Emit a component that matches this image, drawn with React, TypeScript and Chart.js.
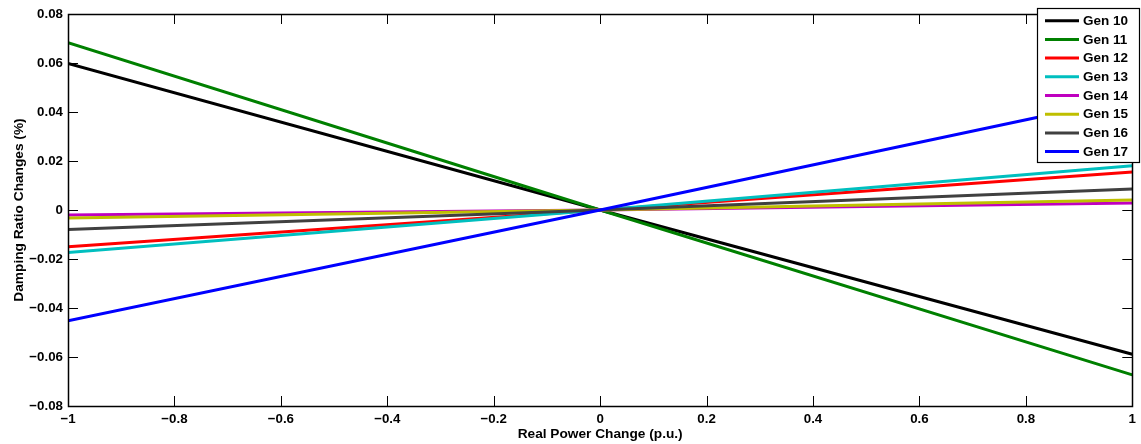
import React, { useEffect, useRef } from "react";
import { Chart, registerables } from "chart.js";

Chart.register(...registerables);

const xValues = [-1, 0, 1];
const seriesNames = ["Gen 10", "Gen 11", "Gen 12", "Gen 13", "Gen 14", "Gen 15", "Gen 16", "Gen 17"];
const gen10 = [0.0598, 0, -0.0589];
const gen11 = [0.0683, 0, -0.0673];
const gen12 = [-0.0150, 0, 0.0155];
const gen13 = [-0.0173, 0, 0.0181];
const gen14 = [-0.0020, 0, 0.0029];
const gen15 = [-0.0033, 0, 0.0041];
const gen16 = [-0.0080, 0, 0.0086];
const gen17 = [-0.0452, 0, 0.0460];
const seriesValues = [gen10, gen11, gen12, gen13, gen14, gen15, gen16, gen17];
const seriesColors = ["#000000", "#008000", "#ff0000", "#00bfbf", "#bf00bf", "#bfbf00", "#404040", "#0000ff"];
const xTicks = [-1, -0.8, -0.6, -0.4, -0.2, 0, 0.2, 0.4, 0.6, 0.8, 1];
const yTicks = [-0.08, -0.06, -0.04, -0.02, 0, 0.02, 0.04, 0.06, 0.08];

const FONT = "'Liberation Sans', Arial, Helvetica, sans-serif";

const fmt = (v: number, digits: number) => {
  if (Math.abs(v) < 1e-9) return "0";
  let s = Math.abs(Math.abs(v) - 1) < 1e-9 ? "1" : Math.abs(v).toFixed(digits);
  return (v < 0 ? "\u2212" : "") + s;
};

const boxPlugin = {
  id: "boxPlugin",
  afterDraw(chart: any) {
    const ctx = chart.ctx;
    const { left, right, top, bottom } = chart.chartArea;
    const xs = chart.scales.x;
    const ys = chart.scales.y;
    const tl = 10;
    ctx.save();
    ctx.strokeStyle = "#000";
    ctx.lineWidth = 1;
    ctx.beginPath();
    xTicks.forEach((t) => {
      const px = Math.round(xs.getPixelForValue(t)) + 0.5;
      ctx.moveTo(px, bottom);
      ctx.lineTo(px, bottom - tl);
      ctx.moveTo(px, top);
      ctx.lineTo(px, top + tl);
    });
    yTicks.forEach((t) => {
      const py = Math.round(ys.getPixelForValue(t)) + 0.5;
      ctx.moveTo(left, py);
      ctx.lineTo(left + tl, py);
      ctx.moveTo(right, py);
      ctx.lineTo(right - tl, py);
    });
    ctx.stroke();
    ctx.lineWidth = 1.5;
    ctx.strokeRect(Math.round(left) + 0.5, Math.round(top) + 0.5, Math.round(right - left), Math.round(bottom - top));

    // legend
    const lx = 1037.5, ly = 8.5, lw = 102, lh = 154;
    ctx.fillStyle = "#fff";
    ctx.fillRect(lx, ly, lw, lh);
    ctx.lineWidth = 1.2;
    ctx.strokeStyle = "#000";
    ctx.strokeRect(lx, ly, lw, lh);
    ctx.font = "bold 13.5px " + FONT;
    ctx.textBaseline = "middle";
    ctx.textAlign = "left";
    seriesNames.forEach((name, i) => {
      const cy = 20.7 + i * 18.7;
      ctx.strokeStyle = seriesColors[i];
      ctx.lineWidth = 3;
      ctx.beginPath();
      ctx.moveTo(1045, cy);
      ctx.lineTo(1079, cy);
      ctx.stroke();
      ctx.fillStyle = "#000";
      ctx.fillText(name, 1083, cy + 0.5);
    });
    ctx.restore();
  },
};

export default function App() {
  const ref = useRef<HTMLCanvasElement | null>(null);
  useEffect(() => {
    document.body.style.margin = "0";
    const canvas = ref.current!;
    const chart = new Chart(canvas, {
      type: "line",
      data: {
        datasets: seriesNames.map((name, i) => ({
          label: name,
          data: xValues.map((x, j) => ({ x, y: seriesValues[i][j] })),
          borderColor: seriesColors[i],
          backgroundColor: seriesColors[i],
          borderWidth: 3,
          pointRadius: 0,
          fill: false,
          tension: 0,
          order: seriesNames.length - i,
        })),
      },
      options: {
        responsive: false,
        animation: false,
        events: [],
        layout: { padding: { top: 14, right: 6, left: 0, bottom: 0 } },
        plugins: { legend: { display: false }, tooltip: { enabled: false } },
        scales: {
          x: {
            type: "linear",
            min: -1,
            max: 1,
            afterFit: (s: any) => { s.height = 38; },
            afterBuildTicks: (s: any) => { s.ticks = xTicks.map((v) => ({ value: v })); },
            grid: { display: false, drawTicks: false },
            border: { display: false },
            ticks: {
              padding: 5,
              color: "#000",
              font: { family: FONT, size: 13.3, weight: "bold" },
              callback: (v: any) => fmt(Number(v), 1),
              maxRotation: 0,
              autoSkip: false,
            },
            title: {
              display: true,
              text: "Real Power Change (p.u.)",
              color: "#000",
              font: { family: FONT, size: 13.7, weight: "bold" },
              padding: { top: 0, bottom: 2 },
            },
          },
          y: {
            type: "linear",
            min: -0.08,
            max: 0.08,
            afterFit: (s: any) => { s.width = 68; },
            afterBuildTicks: (s: any) => { s.ticks = yTicks.map((v) => ({ value: v })); },
            grid: { display: false, drawTicks: false },
            border: { display: false },
            ticks: {
              padding: 5,
              color: "#000",
              font: { family: FONT, size: 13.3, weight: "bold" },
              callback: (v: any) => fmt(Number(v), 2),
              autoSkip: false,
            },
            title: {
              display: true,
              text: "Damping Ratio Changes (%)",
              color: "#000",
              font: { family: FONT, size: 13.7, weight: "bold" },
              padding: { top: 11, bottom: 0 },
            },
          },
        },
      },
      plugins: [boxPlugin],
    } as any);
    return () => chart.destroy();
  }, []);
  return (
    <div style={{ position: "absolute", left: 0, top: 0, width: 1141, height: 444, background: "#fff" }}>
      <canvas ref={ref} width={1141} height={444} style={{ width: 1141, height: 444, display: "block" }} />
    </div>
  );
}
